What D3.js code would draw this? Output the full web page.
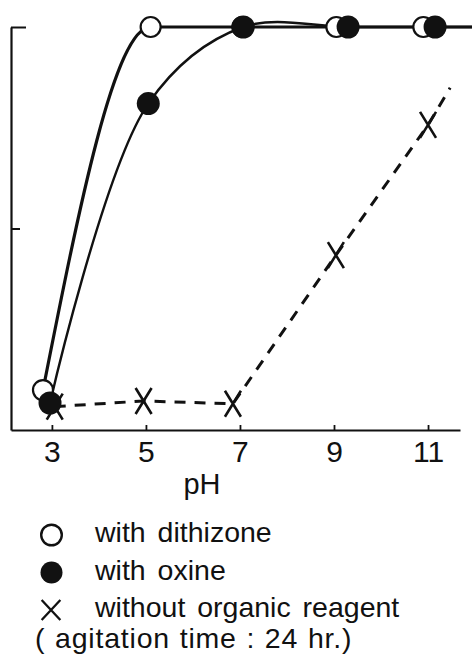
<!DOCTYPE html>
<html>
<head>
<meta charset="utf-8">
<script src="https://cdn.jsdelivr.net/npm/d3@7"></script>
<style>
  html, body { margin: 0; padding: 0; background: #fff; }
  svg { display: block; }
  text { font-family: "Liberation Sans", "DejaVu Sans", sans-serif; fill: #111; }
</style>
</head>
<body>
<svg id="chart" width="472" height="655"></svg>
<script>
// Extraction (%) against pH for three conditions
const phDithizone  = [2.81, 5.1, 7.05, 9.05, 10.9];
const valDithizone = [9.9, 100, 100, 100, 100];

const phOxine  = [2.96, 5.05, 7.07, 9.3, 11.15];
const valOxine = [6.7, 81, 100, 100, 100];

const phNoReagent  = [3.06, 4.95, 6.85, 9.04, 11.0];
const valNoReagent = [5.8, 7.2, 6.5, 43.4, 75.7];

// Where the drawn curves run on past the last measured point
const solidTail  = [12.0, 100];
const dashedTail = [11.47, 84.9];

const xTicks = [3, 5, 7, 9, 11];
const yTicks = [50, 100];

const legendItems = ["with dithizone", "with oxine", "without organic reagent"];
const footnote = "( agitation time : 24 hr.)";
const xTitle = "pH";

const svg = d3.select("#chart");

const x = d3.scaleLinear().domain([2.13, 11.68]).range([11, 460]);
const y = d3.scaleLinear().domain([0, 100]).range([430, 27]);

const ink = "#111";

// Axes
const xAxis = svg.append("g")
  .attr("transform", `translate(0,${y(0)})`)
  .call(d3.axisBottom(x).tickValues(xTicks).tickSizeInner(-5).tickSizeOuter(0).tickFormat(d3.format("d")));
xAxis.select(".domain").attr("stroke", ink).attr("stroke-width", 2.2);
xAxis.selectAll(".tick line").attr("stroke", ink).attr("stroke-width", 1.8);
xAxis.selectAll(".tick text")
  .attr("y", 32).attr("dy", 0)
  .style("font-size", "30px").attr("fill", ink);

const yAxis = svg.append("g")
  .attr("transform", `translate(${x.range()[0]},0)`)
  .call(d3.axisLeft(y).tickValues(yTicks).tickSizeInner(-9).tickSizeOuter(0).tickFormat(""));
yAxis.select(".domain").attr("stroke", ink).attr("stroke-width", 2.2);
yAxis.selectAll(".tick line").attr("stroke", ink).attr("stroke-width", 2)
  .filter(d => d === 100).attr("x2", 15);

svg.append("text")
  .attr("x", 202).attr("y", 494)
  .attr("text-anchor", "middle")
  .style("font-size", "29px")
  .text(xTitle);

// Curves: smooth fits for the reagent runs, straight segments for the blank
const px = d => x(d[0]), py = d => y(d[1]);
const lineDith = d3.line().x(px).y(py).curve(d3.curveMonotoneX);
const lineOx   = d3.line().x(px).y(py).curve(d3.curveCatmullRom.alpha(0.5));
const lineNone = d3.line().x(px).y(py).curve(d3.curveLinear);

const dithPts = phDithizone.map((p, i) => [p, valDithizone[i]]);
const oxPts   = phOxine.map((p, i) => [p, valOxine[i]]);
const noPts   = phNoReagent.map((p, i) => [p, valNoReagent[i]]);

svg.append("path")
  .datum(noPts.concat([dashedTail]))
  .attr("d", lineNone)
  .attr("fill", "none").attr("stroke", ink)
  .attr("stroke-width", 3).attr("stroke-dasharray", "11,9");

svg.append("path")
  .datum(oxPts.concat([solidTail]))
  .attr("d", lineOx)
  .attr("fill", "none").attr("stroke", ink).attr("stroke-width", 2.4);

svg.append("path")
  .datum(dithPts.concat([solidTail]))
  .attr("d", lineDith)
  .attr("fill", "none").attr("stroke", ink).attr("stroke-width", 3.2);

// Markers
const cross = "M-8,-13L8,13M8,-13L-8,13";
svg.append("g").selectAll("path")
  .data(noPts).join("path")
  .attr("transform", d => `translate(${x(d[0])},${y(d[1])})`)
  .attr("d", cross)
  .attr("fill", "none").attr("stroke", ink).attr("stroke-width", 2.6);

svg.append("g").selectAll("circle")
  .data(dithPts).join("circle")
  .attr("cx", d => x(d[0])).attr("cy", d => y(d[1]))
  .attr("r", 10)
  .attr("fill", "#fff").attr("stroke", ink).attr("stroke-width", 2.2);

svg.append("g").selectAll("circle")
  .data(oxPts).join("circle")
  .attr("cx", d => x(d[0])).attr("cy", d => y(d[1]))
  .attr("r", 11.5)
  .attr("fill", ink);

// Legend
const legend = svg.append("g").style("font-size", "28.5px");
const rowY = [542, 580, 617];
legend.append("circle").attr("cx", 51.5).attr("cy", 535).attr("r", 10.3)
  .attr("fill", "#fff").attr("stroke", ink).attr("stroke-width", 2.4);
legend.append("circle").attr("cx", 51.5).attr("cy", 572.5).attr("r", 11)
  .attr("fill", ink);
legend.append("path")
  .attr("transform", "translate(51,610) scale(0.85,0.77)")
  .attr("d", "M-11,-13L11,13M11,-13L-11,13")
  .attr("fill", "none").attr("stroke", ink).attr("stroke-width", 2.6);

legend.selectAll("text.item")
  .data(legendItems).join("text")
  .attr("class", "item")
  .attr("x", 95).attr("y", (d, i) => rowY[i])
  .style("word-spacing", "4px")
  .text(d => d);

legend.append("text")
  .attr("x", 35).attr("y", 648)
  .style("letter-spacing", "0.8px").style("word-spacing", "1px")
  .text(footnote);
</script>
</body>
</html>
